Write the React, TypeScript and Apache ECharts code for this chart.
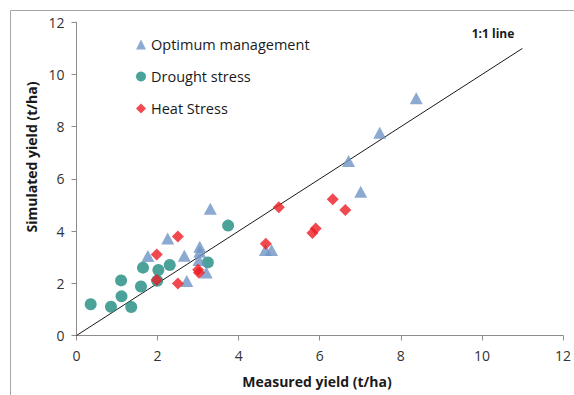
import React, { useEffect, useRef } from "react";
import * as echarts from "echarts";

const optimum: number[][] = [
  [1.76, 3.05], [2.25, 3.72], [2.66, 3.06], [2.72, 2.09], [3.04, 3.4], [3.04, 3.21],
  [3.02, 2.89], [3.2, 2.41], [3.3, 4.86], [4.66, 3.28], [4.81, 3.28], [6.71, 6.69],
  [7.01, 5.51], [7.48, 7.77], [8.38, 9.09],
];
const drought: number[][] = [
  [0.35, 1.2], [0.85, 1.1], [1.1, 2.11], [1.11, 1.5], [1.35, 1.09], [1.59, 1.88],
  [1.64, 2.6], [2.02, 2.51], [1.99, 2.1], [2.3, 2.7], [3.24, 2.8], [3.74, 4.21],
];
const heat: number[][] = [
  [1.98, 3.1], [2.5, 3.79], [1.98, 2.13], [2.5, 1.99], [3.0, 2.52], [3.02, 2.4],
  [4.99, 4.91], [4.67, 3.52], [5.82, 3.93], [5.9, 4.1], [6.32, 5.22], [6.63, 4.81],
];
const oneToOne: number[][] = [[0, 0], [11, 11]];
const seriesNames = ["Optimum management", "Drought stress", "Heat Stress"];

const FONT = "'Open Sans', 'Noto Sans', sans-serif";

export default function App() {
  const ref = useRef<HTMLDivElement>(null);
  useEffect(() => {
    if (!ref.current) return;
    const chart = echarts.init(ref.current, null, { renderer: "svg" });
    const axisCommon = {
      type: "value" as const,
      min: 0,
      max: 12,
      interval: 2,
      splitLine: { show: false },
      axisLine: { show: true, lineStyle: { color: "#8c8c8c", width: 1 } },
      axisTick: { show: true, length: 5, lineStyle: { color: "#8c8c8c" } },
      axisLabel: { color: "#333333", fontSize: 14, fontFamily: FONT, margin: 10 },
    };
    chart.setOption({
      animation: false,
      backgroundColor: "#ffffff",
      grid: { left: 76.5, right: 6.5, top: 22.3, bottom: 59.5, containLabel: false },
      xAxis: { ...axisCommon, axisLabel: { ...axisCommon.axisLabel, margin: 13 } },
      yAxis: { ...axisCommon, axisLabel: { ...axisCommon.axisLabel, margin: 12 } },
      legend: {
        data: seriesNames,
        orient: "vertical",
        left: 131,
        top: 32,
        itemWidth: 10,
        itemHeight: 10,
        itemGap: 17,
        textStyle: { color: "#1a1a1a", fontSize: 14.5, fontFamily: FONT, lineHeight: 14 },
      },
      graphic: [
        {
          type: "rect",
          shape: { x: 10.5, y: 10.5, width: 600, height: 400 },
          style: { fill: "none", stroke: "#a6a6a6", lineWidth: 1 },
          z: -1,
        },
        {
          type: "text",
          x: 493,
          y: 33,
          style: {
            text: "1:1 line", fontSize: 12, fontWeight: "bold", fontFamily: FONT,
            fill: "#1a1a1a", align: "center", verticalAlign: "middle",
          },
        },
        {
          type: "text",
          x: 31,
          y: 157,
          rotation: Math.PI / 2,
          style: {
            text: "Simulated yield (t/ha)", fontSize: 14, fontWeight: "bold", fontFamily: FONT,
            fill: "#1a1a1a", align: "center", verticalAlign: "middle",
          },
        },
        {
          type: "text",
          x: 317,
          y: 381,
          style: {
            text: "Measured yield (t/ha)", fontSize: 14, fontWeight: "bold", fontFamily: FONT,
            fill: "#1a1a1a", align: "center", verticalAlign: "middle",
          },
        },
      ],
      series: [
        {
          name: "1:1", type: "line", data: oneToOne, showSymbol: false, symbol: "none",
          lineStyle: { color: "#1a1a1a", width: 1 }, z: 1, silent: true,
        },
        {
          name: seriesNames[0], type: "scatter", data: optimum, symbol: "triangle",
          symbolSize: [13, 12], itemStyle: { color: "#6E93C6" }, z: 3,
        },
        {
          name: seriesNames[1], type: "scatter", data: drought, symbol: "circle",
          symbolSize: 12, itemStyle: { color: "#1E8B7F" }, z: 2,
        },
        {
          name: seriesNames[2], type: "scatter", data: heat, symbol: "diamond",
          symbolSize: 12, itemStyle: { color: "#ED1C24" }, z: 4,
        },
      ],
    });
    return () => chart.dispose();
  }, []);
  return (
    <div
      ref={ref}
      style={{ position: "fixed", left: 0, top: 0, width: 574, height: 395 }}
    />
  );
}
